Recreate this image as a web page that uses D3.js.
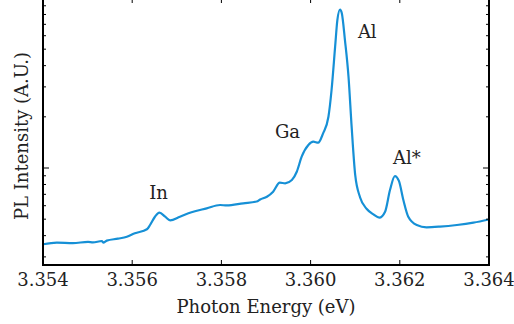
<!DOCTYPE html>
<html>
<head>
<meta charset="utf-8">
<script src="https://cdn.jsdelivr.net/npm/d3@7"></script>
<style>
  html, body { margin: 0; padding: 0; background: #fff; }
  svg { display: block; }
</style>
</head>
<body>
<div id="chart"></div>
<script>
// photon energy (eV) and PL intensity (arb. units)
const energy = [
  3.35400, 3.35431, 3.35467, 3.35501, 3.35512, 3.35532, 3.35535, 3.35543,
  3.35568, 3.35588, 3.35606, 3.35633, 3.35640, 3.35651, 3.35661, 3.35674,
  3.35685, 3.35707, 3.35733, 3.35767, 3.35797, 3.35812, 3.35849, 3.35879,
  3.35887, 3.35902, 3.35916, 3.35931, 3.35943, 3.35958, 3.35969, 3.35980,
  3.35995, 3.36006, 3.36017, 3.36028, 3.36040, 3.36047, 3.36055, 3.36060,
  3.36066, 3.36070, 3.36077, 3.36085, 3.36092, 3.36100, 3.36111, 3.36126,
  3.36141, 3.36154, 3.36167, 3.36178, 3.36189, 3.36198, 3.36208, 3.36219,
  3.36238, 3.36260, 3.36290, 3.36328, 3.36365, 3.36400
];
const intensity = [
  0.356, 0.364, 0.361, 0.368, 0.365, 0.372, 0.364, 0.374,
  0.384, 0.394, 0.413, 0.436, 0.462, 0.517, 0.546, 0.517,
  0.492, 0.517, 0.549, 0.579, 0.606, 0.602, 0.620, 0.635,
  0.653, 0.678, 0.726, 0.820, 0.813, 0.850, 0.951, 1.166,
  1.366, 1.428, 1.409, 1.600, 2.003, 2.876, 5.17, 7.42,
  8.56, 8.13, 5.66, 3.44, 1.75, 0.910, 0.671, 0.574,
  0.533, 0.510, 0.553, 0.742, 0.897, 0.839, 0.648, 0.517,
  0.462, 0.448, 0.452, 0.462, 0.477, 0.498
];

const xTicks = [3.354, 3.356, 3.358, 3.360, 3.362, 3.364];
const yMajor = [1, 10];
const yMinor = [0.2, 0.3, 0.4, 0.5, 0.6, 0.7, 0.8, 0.9, 2, 3, 4, 5, 6, 7, 8, 9];

const peakLabels = ["In", "Ga", "Al", "Al*"];
const peakEnergy = [3.35638, 3.35920, 3.36106, 3.36185];
const peakIntensity = [0.657, 1.50, 5.82, 1.056];

const W = 514, H = 324;
const mLeft = 43, mRight = 489, mTop = -2, mBottom = 265;
const FONT = "'DejaVu Serif', 'Liberation Serif', serif";

const svg = d3.select("#chart").append("svg")
  .attr("width", W).attr("height", H)
  .attr("font-family", FONT)
  .style("font-family", FONT);

const x = d3.scaleLinear().domain([3.354, 3.364]).range([mLeft, mRight]);
const y = d3.scaleLog().domain([Math.pow(10, -97 / 170), 10]).range([mBottom, mTop]);

svg.append("clipPath").attr("id", "plot-clip")
  .append("rect")
  .attr("x", mLeft).attr("y", mTop)
  .attr("width", mRight - mLeft).attr("height", mBottom - mTop);

const pts = energy.map((e, i) => [e, intensity[i]]);
const line = d3.line()
  .x((d) => x(d[0]))
  .y((d) => y(d[1]))
  .curve(d3.curveMonotoneX);

svg.append("path")
  .datum(pts)
  .attr("clip-path", "url(#plot-clip)")
  .attr("fill", "none")
  .attr("stroke", "#1690d6")
  .attr("stroke-width", 2.2)
  .attr("stroke-linejoin", "round")
  .attr("d", line);

// ticks (pointing inward on all four sides)
const tickG = svg.append("g").attr("stroke", "#000").attr("stroke-width", 1);
xTicks.forEach((t) => {
  tickG.append("line").attr("x1", x(t)).attr("x2", x(t)).attr("y1", mBottom).attr("y2", mBottom - 5);
  tickG.append("line").attr("x1", x(t)).attr("x2", x(t)).attr("y1", mTop).attr("y2", mTop + 5);
});
const yDom = y.domain();
yMajor.filter((v) => v >= yDom[0] && v <= yDom[1]).forEach((v) => {
  tickG.append("line").attr("x1", mLeft).attr("x2", mLeft + 6).attr("y1", y(v)).attr("y2", y(v));
  tickG.append("line").attr("x1", mRight).attr("x2", mRight - 6).attr("y1", y(v)).attr("y2", y(v));
});
yMinor.filter((v) => v >= yDom[0] && v <= yDom[1]).forEach((v) => {
  tickG.append("line").attr("x1", mLeft).attr("x2", mLeft + 3).attr("y1", y(v)).attr("y2", y(v));
  tickG.append("line").attr("x1", mRight).attr("x2", mRight - 3).attr("y1", y(v)).attr("y2", y(v));
});

// frame
svg.append("rect")
  .attr("x", mLeft).attr("y", mTop)
  .attr("width", mRight - mLeft).attr("height", mBottom - mTop)
  .attr("fill", "none").attr("stroke", "#000").attr("stroke-width", 2);

const txt = (sel) => sel.attr("font-size", 18).attr("fill", "#222");

// tick labels
svg.append("g").selectAll("text")
  .data(xTicks)
  .join("text")
  .call(txt)
  .attr("x", (d) => x(d))
  .attr("y", 286)
  .attr("text-anchor", "middle")
  .text((d) => d3.format(".3f")(d));

svg.append("text")
  .call(txt)
  .attr("x", (mLeft + mRight) / 2)
  .attr("y", 313)
  .attr("text-anchor", "middle")
  .text("Photon Energy (eV)");

svg.append("text")
  .call(txt)
  .attr("transform", `translate(28,136) rotate(-90)`)
  .attr("text-anchor", "middle")
  .text("PL Intensity (A.U.)");

svg.append("g").selectAll("text")
  .data(peakLabels)
  .join("text")
  .call(txt)
  .attr("x", (d, i) => x(peakEnergy[i]))
  .attr("y", (d, i) => y(peakIntensity[i]))
  .text((d) => d);
</script>
</body>
</html>
